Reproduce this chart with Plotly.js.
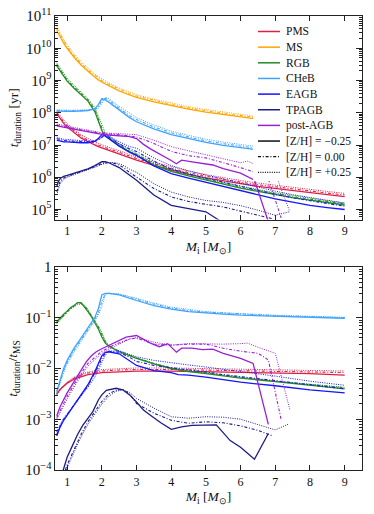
<!DOCTYPE html>
<html>
<head>
<meta charset="utf-8">
<script src="https://cdn.plot.ly/plotly-3.0.1.min.js"></script>
<style>
  html, body { margin: 0; padding: 0; background: #fff; }
  #plot { width: 374px; height: 514px; }
</style>
</head>
<body>
<div id="plot"></div>
<script>
// values are log10 of the plotted quantity
// suffixes: Lo = [Z/H] -0.25 (solid), Mid = 0.00 (dash-dot), Hi = +0.25 (dotted)

// ---- top panel: t_duration [yr] ----
var mTop = [0.7, 0.8, 0.9, 1.0, 1.2, 1.4, 1.6, 1.8, 1.9, 2.0, 2.1, 2.2, 2.5, 2.8, 3.0, 3.5, 4.0, 4.5, 5.0, 5.5, 6.0, 6.5, 7.0, 7.5, 8.0, 8.5, 9.0];

var msLo  = [10.55,10.35,10.16,10.00,9.72,9.48,9.28,9.10,9.02,8.95,8.89,8.84,8.68,8.55,8.48,8.34,8.22,8.11,8.02,7.94,7.87,7.80,7.74,7.69,7.64,7.59,7.55];
var msMid = [10.61,10.41,10.22,10.05,9.77,9.53,9.33,9.15,9.07,9.00,8.94,8.89,8.73,8.59,8.52,8.38,8.26,8.15,8.06,7.98,7.91,7.84,7.78,7.73,7.68,7.63,7.59];
var msHi  = [10.68,10.47,10.28,10.11,9.83,9.59,9.38,9.20,9.12,9.05,8.99,8.93,8.77,8.64,8.56,8.42,8.30,8.19,8.10,8.02,7.95,7.88,7.82,7.77,7.72,7.67,7.63];

var chebLo  = [8.05,8.04,8.04,8.04,8.04,8.05,8.07,8.13,8.25,8.44,8.40,8.33,8.08,7.85,7.72,7.50,7.32,7.19,7.08,6.99,6.91,6.85,6.78,6.72,6.66,6.60,6.55];
var chebMid = [8.07,8.06,8.06,8.06,8.06,8.06,8.07,8.10,8.18,8.38,8.45,8.40,8.14,7.91,7.79,7.56,7.38,7.25,7.13,7.04,6.96,6.89,6.82,6.76,6.70,6.64,6.59];
var chebHi  = [8.09,8.08,8.08,8.08,8.08,8.08,8.08,8.10,8.14,8.28,8.47,8.44,8.20,7.98,7.85,7.62,7.43,7.30,7.18,7.09,7.01,6.94,6.87,6.80,6.74,6.68,6.63];

var rgbLo  = [9.45,9.30,9.13,8.98,8.76,8.55,8.36,8.03,7.75,7.45,7.28,7.20,6.98,6.78,6.68,6.38,6.18,6.04,5.91,5.78,5.66,5.56,5.46,5.37,5.29,5.21,5.14];
var rgbMid = [9.50,9.35,9.18,9.02,8.80,8.59,8.40,8.10,7.83,7.52,7.33,7.24,7.01,6.81,6.71,6.41,6.21,6.07,5.94,5.81,5.69,5.59,5.49,5.40,5.32,5.24,5.17];
var rgbHi  = [9.55,9.40,9.23,9.07,8.85,8.63,8.44,8.16,7.90,7.60,7.38,7.28,7.05,6.85,6.74,6.45,6.25,6.10,5.97,5.84,5.72,5.62,5.52,5.43,5.35,5.27,5.20];

var pmsLo  = [7.97,7.80,7.67,7.56,7.38,7.22,7.10,6.99,6.95,6.91,6.87,6.83,6.72,6.60,6.53,6.37,6.22,6.09,5.98,5.88,5.80,5.72,5.65,5.58,5.52,5.46,5.40];
var pmsMid = [8.00,7.85,7.72,7.61,7.43,7.27,7.15,7.04,7.00,6.96,6.92,6.88,6.77,6.65,6.58,6.42,6.27,6.14,6.03,5.93,5.85,5.77,5.70,5.63,5.57,5.51,5.45];
var pmsHi  = [8.03,7.90,7.77,7.66,7.48,7.32,7.20,7.09,7.05,7.01,6.97,6.93,6.82,6.70,6.63,6.47,6.32,6.19,6.08,5.98,5.90,5.82,5.75,5.68,5.62,5.56,5.50];

var eagbLo  = [7.15,7.12,7.10,7.10,7.08,7.07,7.07,7.12,7.20,7.32,7.28,7.20,6.96,6.78,6.68,6.35,6.11,5.97,5.84,5.70,5.57,5.45,5.33,5.23,5.13,5.06,5.00];
var eagbMid = [7.20,7.16,7.14,7.13,7.11,7.10,7.09,7.11,7.16,7.25,7.30,7.25,7.03,6.88,6.80,6.50,6.25,6.10,5.97,5.84,5.71,5.59,5.47,5.36,5.27,5.18,5.10];
var eagbHi  = [7.25,7.20,7.18,7.17,7.15,7.13,7.12,7.13,7.17,7.22,7.30,7.28,7.10,6.95,6.90,6.60,6.36,6.20,6.07,5.94,5.81,5.69,5.57,5.46,5.37,5.28,5.20];

var mTpLo  = [0.7, 0.75, 0.8, 0.9, 1.0, 1.2, 1.4, 1.6, 1.8, 1.9, 2.0, 2.1, 2.2, 2.5, 2.8, 3.0, 3.5, 4.0, 4.5, 5.0, 5.3, 5.7, 6.0, 6.4, 6.8];
var tpLo   = [5.70,5.88,5.96,6.03,6.06,6.12,6.19,6.26,6.36,6.42,6.48,6.48,6.45,6.30,6.05,5.91,5.45,5.13,5.03,4.93,4.72,4.45,4.30,3.98,4.47];
var mTpMid = [0.7, 0.75, 0.8, 0.9, 1.0, 1.2, 1.4, 1.6, 1.8, 2.0, 2.2, 2.4, 2.6, 2.8, 3.0, 3.5, 4.0, 4.5, 5.0, 5.5, 6.0, 6.5, 6.9];
var tpMid  = [5.55,5.75,5.88,5.98,6.03,6.10,6.17,6.25,6.33,6.43,6.46,6.42,6.32,6.15,6.01,5.65,5.39,5.25,5.16,5.08,4.95,4.82,4.72];
var mTpHi  = [0.7, 0.75, 0.8, 0.9, 1.0, 1.2, 1.4, 1.6, 1.8, 2.0, 2.2, 2.4, 2.6, 2.8, 3.0, 3.5, 4.0, 4.5, 5.0, 5.5, 6.0, 6.5, 7.0, 7.4];
var tpHi   = [5.45,5.65,5.80,5.93,6.00,6.08,6.15,6.23,6.31,6.40,6.46,6.45,6.38,6.25,6.15,5.80,5.54,5.39,5.28,5.22,5.12,4.98,4.82,4.93];

var mPostLo  = [0.7, 0.8, 1.0, 1.2, 1.4, 1.6, 1.8, 2.0, 2.2, 2.4, 2.6, 2.8, 3.0, 3.2, 3.4, 3.6, 3.8, 4.0, 4.15, 4.3, 4.6, 5.0, 5.2, 5.5, 6.0, 6.4, 6.8];
var postLo   = [7.59,7.57,7.53,7.48,7.44,7.40,7.37,7.33,7.31,7.30,7.28,7.26,7.20,7.02,6.88,6.76,6.66,6.52,6.42,6.53,6.48,6.42,6.38,6.27,6.13,5.91,4.62];
var mPostMid = [0.7, 1.0, 1.5, 2.0, 2.5, 3.0, 3.5, 4.0, 4.5, 5.0, 5.5, 6.0, 6.5, 6.8, 7.17];
var postMid  = [7.62,7.55,7.45,7.36,7.32,7.25,7.05,6.80,6.67,6.60,6.45,6.30,6.12,5.95,4.74];
var mPostHi  = [0.7, 1.0, 1.5, 2.0, 2.5, 3.0, 3.5, 4.0, 4.5, 5.0, 5.5, 6.0, 6.2, 6.5, 7.0, 7.42];
var postHi   = [7.65,7.58,7.48,7.38,7.35,7.32,7.15,6.95,6.82,6.70,6.58,6.45,6.50,6.35,6.12,4.93];

// ---- bottom panel: t_duration / t_MS ----
var chebRLo  = [-2.45,-2.20,-2.00,-1.84,-1.60,-1.40,-1.20,-0.99,-0.82,-0.55,-0.52,-0.52,-0.55,-0.62,-0.66,-0.76,-0.83,-0.88,-0.91,-0.93,-0.95,-0.96,-0.97,-0.98,-0.99,-1.00,-1.01];
var chebRMid = [-2.48,-2.24,-2.04,-1.88,-1.64,-1.44,-1.24,-1.03,-0.90,-0.68,-0.53,-0.52,-0.54,-0.60,-0.64,-0.73,-0.81,-0.86,-0.89,-0.91,-0.93,-0.95,-0.96,-0.97,-0.98,-0.99,-1.00];
var chebRHi  = [-2.50,-2.28,-2.08,-1.92,-1.68,-1.47,-1.27,-1.07,-0.95,-0.78,-0.55,-0.52,-0.53,-0.58,-0.62,-0.71,-0.79,-0.84,-0.88,-0.90,-0.92,-0.94,-0.95,-0.96,-0.97,-0.98,-0.99];

var mRgbR   = [0.7, 0.8, 0.9, 1.0, 1.1, 1.2, 1.3, 1.4, 1.5, 1.6, 1.7, 1.8, 1.9, 2.0, 2.1, 2.2, 2.5, 3.0, 3.5, 4.0, 4.5, 5.0, 6.0, 7.0, 8.0, 9.0];
var rgbRLo  = [-1.08,-1.00,-0.93,-0.87,-0.80,-0.76,-0.70,-0.70,-0.78,-0.88,-0.98,-1.10,-1.22,-1.38,-1.50,-1.56,-1.67,-1.80,-1.91,-2.00,-2.06,-2.10,-2.19,-2.26,-2.33,-2.40];
var rgbRMid = [-1.10,-1.02,-0.95,-0.88,-0.82,-0.77,-0.72,-0.71,-0.76,-0.85,-0.96,-1.07,-1.18,-1.33,-1.47,-1.55,-1.66,-1.79,-1.90,-1.99,-2.05,-2.09,-2.18,-2.25,-2.31,-2.38];
var rgbRHi  = [-1.12,-1.04,-0.97,-0.90,-0.83,-0.78,-0.74,-0.73,-0.76,-0.84,-0.95,-1.05,-1.15,-1.28,-1.45,-1.55,-1.66,-1.79,-1.90,-1.99,-2.05,-2.09,-2.18,-2.25,-2.31,-2.37];

var mPmsR   = [0.7, 0.8, 0.9, 1.0, 1.2, 1.4, 1.6, 2.0, 2.5, 3.0, 4.0, 5.0, 6.0, 7.0, 8.0, 9.0];
var pmsRLo  = [-2.50,-2.41,-2.35,-2.29,-2.21,-2.16,-2.12,-2.08,-2.06,-2.05,-2.05,-2.06,-2.07,-2.08,-2.10,-2.13];
var pmsRMid = [-2.51,-2.41,-2.34,-2.28,-2.19,-2.13,-2.09,-2.05,-2.03,-2.02,-2.02,-2.03,-2.04,-2.05,-2.06,-2.08];
var pmsRHi  = [-2.52,-2.42,-2.34,-2.27,-2.17,-2.11,-2.07,-2.02,-2.00,-1.99,-1.99,-2.00,-2.01,-2.02,-2.03,-2.05];

var mEagbR   = [0.7, 0.8, 0.9, 1.0, 1.2, 1.4, 1.6, 1.8, 1.9, 2.0, 2.1, 2.2, 2.5, 2.8, 3.0, 3.5, 4.0, 4.2, 4.5, 5.0, 5.5, 6.0, 7.0, 8.0, 9.0];
var eagbRLo  = [-3.33,-3.15,-3.02,-2.92,-2.72,-2.52,-2.32,-2.06,-1.90,-1.75,-1.68,-1.67,-1.71,-1.85,-1.94,-2.04,-2.08,-2.12,-2.13,-2.17,-2.22,-2.27,-2.34,-2.42,-2.48];
var eagbRMid = [-3.30,-3.13,-3.00,-2.91,-2.72,-2.53,-2.34,-2.10,-1.96,-1.80,-1.70,-1.66,-1.68,-1.78,-1.86,-1.94,-1.98,-2.00,-2.03,-2.07,-2.12,-2.16,-2.24,-2.32,-2.40];
var eagbRHi  = [-3.25,-3.10,-2.98,-2.90,-2.73,-2.55,-2.37,-2.17,-2.04,-1.88,-1.74,-1.66,-1.65,-1.72,-1.77,-1.84,-1.89,-1.91,-1.93,-1.97,-2.02,-2.06,-2.15,-2.25,-2.33];

var mTpRLo  = [0.87, 1.0, 1.16, 1.3, 1.45, 1.6, 1.74, 1.9, 2.0, 2.13, 2.3, 2.41, 2.6, 2.8, 3.0, 3.2, 3.4, 3.7, 4.0, 4.3, 4.6, 5.0, 5.3, 5.7, 6.0, 6.4, 6.8];
var tpRLo   = [-4.04,-3.75,-3.51,-3.30,-3.12,-2.98,-2.85,-2.62,-2.52,-2.43,-2.40,-2.39,-2.42,-2.52,-2.66,-2.82,-2.92,-3.07,-3.20,-3.15,-3.12,-3.11,-3.11,-3.42,-3.55,-3.79,-3.28];
var mTpRMid = [0.95, 1.0, 1.2, 1.4, 1.6, 1.8, 2.0, 2.2, 2.4, 2.6, 2.8, 3.0, 3.5, 4.0, 4.5, 5.0, 5.5, 6.0, 6.5, 6.9];
var tpRMid  = [-4.00,-3.90,-3.60,-3.30,-3.05,-2.85,-2.65,-2.50,-2.43,-2.41,-2.50,-2.69,-2.88,-3.02,-3.08,-3.05,-3.07,-3.13,-3.22,-3.32];
var mTpRHi  = [0.97, 1.0, 1.2, 1.4, 1.6, 1.8, 2.0, 2.2, 2.4, 2.6, 2.8, 3.0, 3.5, 4.0, 4.5, 5.0, 5.5, 6.0, 6.5, 7.0, 7.4];
var tpRHi   = [-4.00,-3.95,-3.65,-3.35,-3.10,-2.90,-2.70,-2.55,-2.45,-2.42,-2.47,-2.59,-2.78,-2.95,-2.98,-2.95,-2.96,-3.00,-3.10,-3.21,-3.09];

var mPostRLo  = [0.7, 0.8, 1.0, 1.2, 1.4, 1.55, 1.7, 1.84, 2.0, 2.2, 2.4, 2.7, 3.0, 3.2, 3.4, 3.66, 3.9, 4.15, 4.3, 4.6, 4.9, 5.2, 5.5, 6.0, 6.36, 6.8];
var postRLo   = [-2.93,-2.75,-2.48,-2.25,-2.02,-1.87,-1.75,-1.67,-1.61,-1.54,-1.48,-1.38,-1.35,-1.42,-1.50,-1.57,-1.51,-1.68,-1.60,-1.60,-1.63,-1.62,-1.70,-1.80,-1.90,-3.10];
var mPostRMid = [0.7, 1.0, 1.3, 1.6, 2.0, 2.4, 2.8, 3.0, 3.5, 4.0, 4.5, 5.0, 5.5, 6.0, 6.5, 6.8, 7.17];
var postRMid  = [-2.97,-2.55,-2.20,-1.90,-1.66,-1.52,-1.42,-1.40,-1.52,-1.54,-1.52,-1.52,-1.60,-1.66,-1.70,-1.83,-3.01];
var mPostRHi  = [0.7, 1.0, 1.3, 1.6, 2.0, 2.4, 2.8, 3.0, 3.5, 4.0, 4.5, 5.0, 5.5, 6.0, 6.2, 6.5, 7.0, 7.42];
var postRHi   = [-3.00,-2.60,-2.25,-1.95,-1.70,-1.55,-1.42,-1.39,-1.48,-1.54,-1.51,-1.52,-1.52,-1.51,-1.50,-1.58,-1.70,-2.81];

var phaseNames  = ['PMS', 'MS', 'RGB', 'CHeB', 'EAGB', 'TPAGB', 'post-AGB'];
var phaseColors = ['#dc1f48', '#ffa500', '#228b22', '#3fa3ff', '#1414ff', '#1c1c88', '#9a1fd4'];
var zhNames     = ['[Z/H] = \u22120.25', '[Z/H] = 0.00', '[Z/H] = +0.25'];

var styles = {
  lo:  {width: 1.3, dash: 'solid'},
  mid: {width: 1.1, dash: '3px,1.8px,1px,1.8px'},
  hi:  {width: 1.0, dash: '1px,1.3px'}
};

function line(x, logy, color, st, xa, ya) {
  return {
    x: x, y: logy.map(function (v) { return Math.pow(10, v); }),
    type: 'scatter', mode: 'lines', xaxis: xa, yaxis: ya,
    line: {color: color, width: styles[st].width, dash: styles[st].dash},
    showlegend: false, hoverinfo: 'skip'
  };
}

var C = phaseColors;
var traces = [
  // top
  line(mTop, pmsHi, C[0], 'hi', 'x', 'y'), line(mTop, pmsMid, C[0], 'mid', 'x', 'y'), line(mTop, pmsLo, C[0], 'lo', 'x', 'y'),
  line(mTop, msHi, C[1], 'hi', 'x', 'y'), line(mTop, msMid, C[1], 'mid', 'x', 'y'), line(mTop, msLo, C[1], 'lo', 'x', 'y'),
  line(mTop, rgbHi, C[2], 'hi', 'x', 'y'), line(mTop, rgbMid, C[2], 'mid', 'x', 'y'), line(mTop, rgbLo, C[2], 'lo', 'x', 'y'),
  line(mTop, chebHi, C[3], 'hi', 'x', 'y'), line(mTop, chebMid, C[3], 'mid', 'x', 'y'), line(mTop, chebLo, C[3], 'lo', 'x', 'y'),
  line(mTop, eagbHi, C[4], 'hi', 'x', 'y'), line(mTop, eagbMid, C[4], 'mid', 'x', 'y'), line(mTop, eagbLo, C[4], 'lo', 'x', 'y'),
  line(mTpHi, tpHi, C[5], 'hi', 'x', 'y'), line(mTpMid, tpMid, C[5], 'mid', 'x', 'y'), line(mTpLo, tpLo, C[5], 'lo', 'x', 'y'),
  line(mPostHi, postHi, C[6], 'hi', 'x', 'y'), line(mPostMid, postMid, C[6], 'mid', 'x', 'y'), line(mPostLo, postLo, C[6], 'lo', 'x', 'y'),
  // bottom
  line(mPmsR, pmsRHi, C[0], 'hi', 'x2', 'y2'), line(mPmsR, pmsRMid, C[0], 'mid', 'x2', 'y2'), line(mPmsR, pmsRLo, C[0], 'lo', 'x2', 'y2'),
  line(mRgbR, rgbRHi, C[2], 'hi', 'x2', 'y2'), line(mRgbR, rgbRMid, C[2], 'mid', 'x2', 'y2'), line(mRgbR, rgbRLo, C[2], 'lo', 'x2', 'y2'),
  line(mTop, chebRHi, C[3], 'hi', 'x2', 'y2'), line(mTop, chebRMid, C[3], 'mid', 'x2', 'y2'), line(mTop, chebRLo, C[3], 'lo', 'x2', 'y2'),
  line(mEagbR, eagbRHi, C[4], 'hi', 'x2', 'y2'), line(mEagbR, eagbRMid, C[4], 'mid', 'x2', 'y2'), line(mEagbR, eagbRLo, C[4], 'lo', 'x2', 'y2'),
  line(mTpRHi, tpRHi, C[5], 'hi', 'x2', 'y2'), line(mTpRMid, tpRMid, C[5], 'mid', 'x2', 'y2'), line(mTpRLo, tpRLo, C[5], 'lo', 'x2', 'y2'),
  line(mPostRHi, postRHi, C[6], 'hi', 'x2', 'y2'), line(mPostRMid, postRMid, C[6], 'mid', 'x2', 'y2'), line(mPostRLo, postRLo, C[6], 'lo', 'x2', 'y2')
];

// figure geometry (pixels)
var W = 374, H = 514, ML = 55, MR = 12, MT = 16, MB = 44;
function px(x) { return (x - ML) / (W - ML - MR); }
function py(y) { return 1 - (y - MT) / (H - MT - MB); }

var FONT = 'Liberation Serif, Times New Roman, serif';
var INK = '#222';

// legend drawn by hand so rows can be as tight as in the original
var shapes = [{type: 'rect', xref: 'paper', yref: 'paper', x0: px(253), x1: px(356), y0: py(181), y1: py(22),
               fillcolor: '#fff', line: {width: 0}, layer: 'above'}];
var annotations = [];
var legLabels = phaseNames.concat(zhNames);
var legColors = phaseColors.concat(['#111', '#111', '#111']);
var legStyles = ['lo', 'lo', 'lo', 'lo', 'lo', 'lo', 'lo', 'lo', 'mid', 'hi'];
legLabels.forEach(function (lab, i) {
  var yy = 31.5 + i * 15.65;
  shapes.push({type: 'line', xref: 'paper', yref: 'paper', x0: px(258), x1: px(280), y0: py(yy), y1: py(yy),
               line: {color: legColors[i], width: styles[legStyles[i]].width + 0.2, dash: styles[legStyles[i]].dash}, layer: 'above'});
  annotations.push({xref: 'paper', yref: 'paper', x: px(284), y: py(yy), xanchor: 'left', yanchor: 'middle',
                    text: lab, showarrow: false, font: {family: FONT, size: 11.5, color: '#111'}});
});

function xax(anchor) {
  return {
    anchor: anchor, domain: [0, 1], range: [0.65, 9.5], tick0: 0, dtick: 1,
    ticks: 'inside', ticklen: 5, tickwidth: 1, tickcolor: INK, mirror: 'ticks',
    showline: true, linecolor: INK, linewidth: 1.2, showgrid: false, zeroline: false,
    tickfont: {family: FONT, size: 12, color: '#111'},
    title: {text: '<i>M</i><sub>i</sub> [<i>M</i><sub>\u2299</sub>]', font: {family: FONT, size: 13.5, color: '#111'}, standoff: 4}
  };
}
function yax(anchor, domain, range, title) {
  return {
    anchor: anchor, domain: domain, type: 'log', range: range, dtick: 1,
    exponentformat: 'power', ticks: 'inside', ticklen: 6, tickwidth: 1, tickcolor: INK, mirror: 'ticks',
    minor: {ticks: 'inside', ticklen: 3, tickcolor: INK, dtick: 'D1', showgrid: false},
    showline: true, linecolor: INK, linewidth: 1.2, showgrid: false, zeroline: false,
    tickfont: {family: FONT, size: 12, color: '#111'},
    title: {text: title, font: {family: FONT, size: 13.5, color: '#111'}, standoff: 4}
  };
}

var layout = {
  width: W, height: H,
  margin: {l: ML, r: MR, t: MT, b: MB},
  paper_bgcolor: '#fff', plot_bgcolor: '#fff',
  showlegend: false,
  xaxis: xax('y'),
  yaxis: yax('x', [py(219.5), 1], [4.69, 11], '<i>t</i><sub>duration</sub> [yr]'),
  xaxis2: xax('y2'),
  yaxis2: yax('x2', [0, py(267)], [-4, 0], '<i>t</i><sub>duration</sub>/<i>t</i><sub>MS</sub>'),
  shapes: shapes,
  annotations: annotations
};

Plotly.newPlot('plot', traces, layout, {displayModeBar: false, staticPlot: true});
</script>
</body>
</html>
